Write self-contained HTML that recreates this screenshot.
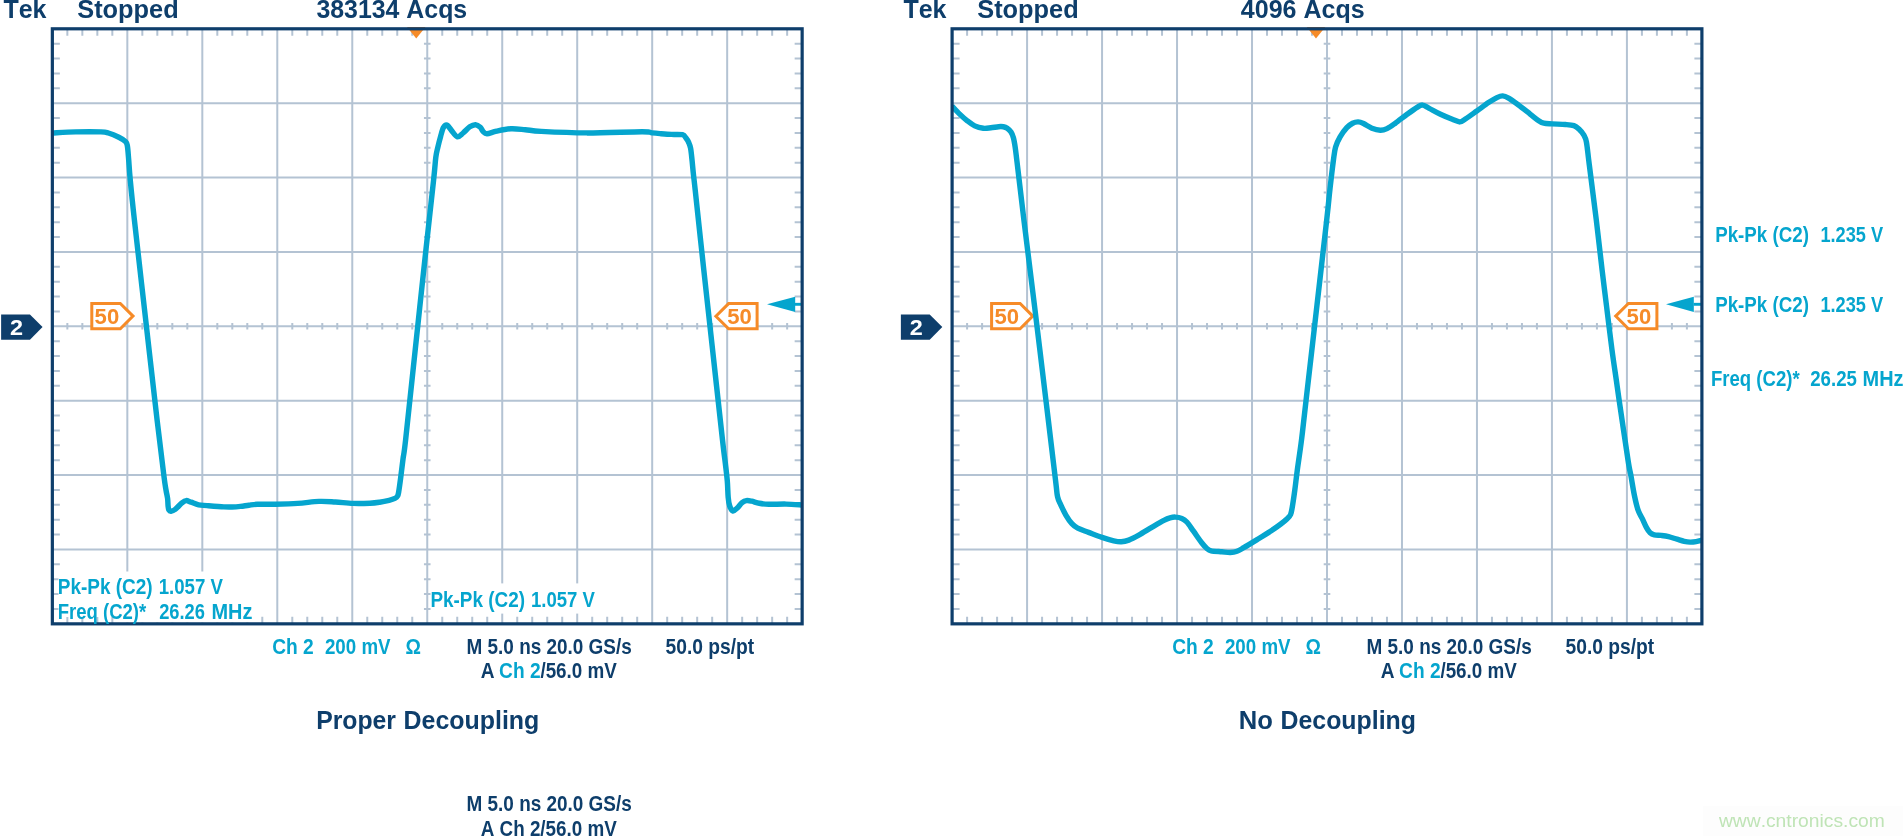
<!DOCTYPE html>
<html><head><meta charset="utf-8"><title>Scope</title>
<style>
html,body{margin:0;padding:0;background:#fff;}
body{width:1903px;height:836px;overflow:hidden;position:relative;font-family:"Liberation Sans",sans-serif;}
svg text{font-family:"Liberation Sans",sans-serif;font-kerning:none;}
</style></head><body>
<svg width="1903" height="836" viewBox="0 0 1903 836" style="position:absolute;left:0;top:0;will-change:transform">
<clipPath id="c52"><rect x="52.35" y="28.8" width="749.8" height="595.04"/></clipPath>
<path d="M127.33 28.8V623.84M202.31 28.8V623.84M277.29 28.8V623.84M352.27 28.8V623.84M427.25 28.8V623.84M502.23 28.8V623.84M577.21 28.8V623.84M652.19 28.8V623.84M727.17 28.8V623.84M52.35 103.18H802.15M52.35 177.56H802.15M52.35 251.94H802.15M52.35 326.32H802.15M52.35 400.7H802.15M52.35 475.08H802.15M52.35 549.46H802.15" stroke="#b4c3d3" stroke-width="2" fill="none"/>
<path d="M67.35 28.8v7M67.35 623.84v-7M67.35 323.12v6.4M82.34 28.8v7M82.34 623.84v-7M82.34 323.12v6.4M97.34 28.8v7M97.34 623.84v-7M97.34 323.12v6.4M112.33 28.8v7M112.33 623.84v-7M112.33 323.12v6.4M142.33 28.8v7M142.33 623.84v-7M142.33 323.12v6.4M157.32 28.8v7M157.32 623.84v-7M157.32 323.12v6.4M172.32 28.8v7M172.32 623.84v-7M172.32 323.12v6.4M187.31 28.8v7M187.31 623.84v-7M187.31 323.12v6.4M217.31 28.8v7M217.31 623.84v-7M217.31 323.12v6.4M232.3 28.8v7M232.3 623.84v-7M232.3 323.12v6.4M247.3 28.8v7M247.3 623.84v-7M247.3 323.12v6.4M262.29 28.8v7M262.29 623.84v-7M262.29 323.12v6.4M292.29 28.8v7M292.29 623.84v-7M292.29 323.12v6.4M307.28 28.8v7M307.28 623.84v-7M307.28 323.12v6.4M322.28 28.8v7M322.28 623.84v-7M322.28 323.12v6.4M337.27 28.8v7M337.27 623.84v-7M337.27 323.12v6.4M367.27 28.8v7M367.27 623.84v-7M367.27 323.12v6.4M382.26 28.8v7M382.26 623.84v-7M382.26 323.12v6.4M397.26 28.8v7M397.26 623.84v-7M397.26 323.12v6.4M412.25 28.8v7M412.25 623.84v-7M412.25 323.12v6.4M442.25 28.8v7M442.25 623.84v-7M442.25 323.12v6.4M457.24 28.8v7M457.24 623.84v-7M457.24 323.12v6.4M472.24 28.8v7M472.24 623.84v-7M472.24 323.12v6.4M487.23 28.8v7M487.23 623.84v-7M487.23 323.12v6.4M517.23 28.8v7M517.23 623.84v-7M517.23 323.12v6.4M532.22 28.8v7M532.22 623.84v-7M532.22 323.12v6.4M547.22 28.8v7M547.22 623.84v-7M547.22 323.12v6.4M562.21 28.8v7M562.21 623.84v-7M562.21 323.12v6.4M592.21 28.8v7M592.21 623.84v-7M592.21 323.12v6.4M607.2 28.8v7M607.2 623.84v-7M607.2 323.12v6.4M622.2 28.8v7M622.2 623.84v-7M622.2 323.12v6.4M637.19 28.8v7M637.19 623.84v-7M637.19 323.12v6.4M667.19 28.8v7M667.19 623.84v-7M667.19 323.12v6.4M682.18 28.8v7M682.18 623.84v-7M682.18 323.12v6.4M697.18 28.8v7M697.18 623.84v-7M697.18 323.12v6.4M712.17 28.8v7M712.17 623.84v-7M712.17 323.12v6.4M742.17 28.8v7M742.17 623.84v-7M742.17 323.12v6.4M757.16 28.8v7M757.16 623.84v-7M757.16 323.12v6.4M772.16 28.8v7M772.16 623.84v-7M772.16 323.12v6.4M787.15 28.8v7M787.15 623.84v-7M787.15 323.12v6.4M52.35 43.68h7.5M802.15 43.68h-7.5M423.95 43.68h6.6M52.35 58.55h7.5M802.15 58.55h-7.5M423.95 58.55h6.6M52.35 73.43h7.5M802.15 73.43h-7.5M423.95 73.43h6.6M52.35 88.3h7.5M802.15 88.3h-7.5M423.95 88.3h6.6M52.35 118.06h7.5M802.15 118.06h-7.5M423.95 118.06h6.6M52.35 132.93h7.5M802.15 132.93h-7.5M423.95 132.93h6.6M52.35 147.81h7.5M802.15 147.81h-7.5M423.95 147.81h6.6M52.35 162.68h7.5M802.15 162.68h-7.5M423.95 162.68h6.6M52.35 192.44h7.5M802.15 192.44h-7.5M423.95 192.44h6.6M52.35 207.31h7.5M802.15 207.31h-7.5M423.95 207.31h6.6M52.35 222.19h7.5M802.15 222.19h-7.5M423.95 222.19h6.6M52.35 237.06h7.5M802.15 237.06h-7.5M423.95 237.06h6.6M52.35 266.82h7.5M802.15 266.82h-7.5M423.95 266.82h6.6M52.35 281.69h7.5M802.15 281.69h-7.5M423.95 281.69h6.6M52.35 296.57h7.5M802.15 296.57h-7.5M423.95 296.57h6.6M52.35 311.44h7.5M802.15 311.44h-7.5M423.95 311.44h6.6M52.35 341.2h7.5M802.15 341.2h-7.5M423.95 341.2h6.6M52.35 356.07h7.5M802.15 356.07h-7.5M423.95 356.07h6.6M52.35 370.95h7.5M802.15 370.95h-7.5M423.95 370.95h6.6M52.35 385.82h7.5M802.15 385.82h-7.5M423.95 385.82h6.6M52.35 415.58h7.5M802.15 415.58h-7.5M423.95 415.58h6.6M52.35 430.45h7.5M802.15 430.45h-7.5M423.95 430.45h6.6M52.35 445.33h7.5M802.15 445.33h-7.5M423.95 445.33h6.6M52.35 460.2h7.5M802.15 460.2h-7.5M423.95 460.2h6.6M52.35 489.96h7.5M802.15 489.96h-7.5M423.95 489.96h6.6M52.35 504.83h7.5M802.15 504.83h-7.5M423.95 504.83h6.6M52.35 519.71h7.5M802.15 519.71h-7.5M423.95 519.71h6.6M52.35 534.58h7.5M802.15 534.58h-7.5M423.95 534.58h6.6M52.35 564.34h7.5M802.15 564.34h-7.5M423.95 564.34h6.6M52.35 579.21h7.5M802.15 579.21h-7.5M423.95 579.21h6.6M52.35 594.09h7.5M802.15 594.09h-7.5M423.95 594.09h6.6M52.35 608.96h7.5M802.15 608.96h-7.5M423.95 608.96h6.6" stroke="#b4c3d3" stroke-width="2" fill="none"/>
<clipPath id="c952"><rect x="952.1" y="28.8" width="749.8" height="595.04"/></clipPath>
<path d="M1027.08 28.8V623.84M1102.06 28.8V623.84M1177.04 28.8V623.84M1252.02 28.8V623.84M1327 28.8V623.84M1401.98 28.8V623.84M1476.96 28.8V623.84M1551.94 28.8V623.84M1626.92 28.8V623.84M952.1 103.18H1701.9M952.1 177.56H1701.9M952.1 251.94H1701.9M952.1 326.32H1701.9M952.1 400.7H1701.9M952.1 475.08H1701.9M952.1 549.46H1701.9" stroke="#b4c3d3" stroke-width="2" fill="none"/>
<path d="M967.1 28.8v7M967.1 623.84v-7M967.1 323.12v6.4M982.09 28.8v7M982.09 623.84v-7M982.09 323.12v6.4M997.09 28.8v7M997.09 623.84v-7M997.09 323.12v6.4M1012.08 28.8v7M1012.08 623.84v-7M1012.08 323.12v6.4M1042.08 28.8v7M1042.08 623.84v-7M1042.08 323.12v6.4M1057.07 28.8v7M1057.07 623.84v-7M1057.07 323.12v6.4M1072.07 28.8v7M1072.07 623.84v-7M1072.07 323.12v6.4M1087.06 28.8v7M1087.06 623.84v-7M1087.06 323.12v6.4M1117.06 28.8v7M1117.06 623.84v-7M1117.06 323.12v6.4M1132.05 28.8v7M1132.05 623.84v-7M1132.05 323.12v6.4M1147.05 28.8v7M1147.05 623.84v-7M1147.05 323.12v6.4M1162.04 28.8v7M1162.04 623.84v-7M1162.04 323.12v6.4M1192.04 28.8v7M1192.04 623.84v-7M1192.04 323.12v6.4M1207.03 28.8v7M1207.03 623.84v-7M1207.03 323.12v6.4M1222.03 28.8v7M1222.03 623.84v-7M1222.03 323.12v6.4M1237.02 28.8v7M1237.02 623.84v-7M1237.02 323.12v6.4M1267.02 28.8v7M1267.02 623.84v-7M1267.02 323.12v6.4M1282.01 28.8v7M1282.01 623.84v-7M1282.01 323.12v6.4M1297.01 28.8v7M1297.01 623.84v-7M1297.01 323.12v6.4M1312 28.8v7M1312 623.84v-7M1312 323.12v6.4M1342 28.8v7M1342 623.84v-7M1342 323.12v6.4M1356.99 28.8v7M1356.99 623.84v-7M1356.99 323.12v6.4M1371.99 28.8v7M1371.99 623.84v-7M1371.99 323.12v6.4M1386.98 28.8v7M1386.98 623.84v-7M1386.98 323.12v6.4M1416.98 28.8v7M1416.98 623.84v-7M1416.98 323.12v6.4M1431.97 28.8v7M1431.97 623.84v-7M1431.97 323.12v6.4M1446.97 28.8v7M1446.97 623.84v-7M1446.97 323.12v6.4M1461.96 28.8v7M1461.96 623.84v-7M1461.96 323.12v6.4M1491.96 28.8v7M1491.96 623.84v-7M1491.96 323.12v6.4M1506.95 28.8v7M1506.95 623.84v-7M1506.95 323.12v6.4M1521.95 28.8v7M1521.95 623.84v-7M1521.95 323.12v6.4M1536.94 28.8v7M1536.94 623.84v-7M1536.94 323.12v6.4M1566.94 28.8v7M1566.94 623.84v-7M1566.94 323.12v6.4M1581.93 28.8v7M1581.93 623.84v-7M1581.93 323.12v6.4M1596.93 28.8v7M1596.93 623.84v-7M1596.93 323.12v6.4M1611.92 28.8v7M1611.92 623.84v-7M1611.92 323.12v6.4M1641.92 28.8v7M1641.92 623.84v-7M1641.92 323.12v6.4M1656.91 28.8v7M1656.91 623.84v-7M1656.91 323.12v6.4M1671.91 28.8v7M1671.91 623.84v-7M1671.91 323.12v6.4M1686.9 28.8v7M1686.9 623.84v-7M1686.9 323.12v6.4M952.1 43.68h7.5M1701.9 43.68h-7.5M1323.7 43.68h6.6M952.1 58.55h7.5M1701.9 58.55h-7.5M1323.7 58.55h6.6M952.1 73.43h7.5M1701.9 73.43h-7.5M1323.7 73.43h6.6M952.1 88.3h7.5M1701.9 88.3h-7.5M1323.7 88.3h6.6M952.1 118.06h7.5M1701.9 118.06h-7.5M1323.7 118.06h6.6M952.1 132.93h7.5M1701.9 132.93h-7.5M1323.7 132.93h6.6M952.1 147.81h7.5M1701.9 147.81h-7.5M1323.7 147.81h6.6M952.1 162.68h7.5M1701.9 162.68h-7.5M1323.7 162.68h6.6M952.1 192.44h7.5M1701.9 192.44h-7.5M1323.7 192.44h6.6M952.1 207.31h7.5M1701.9 207.31h-7.5M1323.7 207.31h6.6M952.1 222.19h7.5M1701.9 222.19h-7.5M1323.7 222.19h6.6M952.1 237.06h7.5M1701.9 237.06h-7.5M1323.7 237.06h6.6M952.1 266.82h7.5M1701.9 266.82h-7.5M1323.7 266.82h6.6M952.1 281.69h7.5M1701.9 281.69h-7.5M1323.7 281.69h6.6M952.1 296.57h7.5M1701.9 296.57h-7.5M1323.7 296.57h6.6M952.1 311.44h7.5M1701.9 311.44h-7.5M1323.7 311.44h6.6M952.1 341.2h7.5M1701.9 341.2h-7.5M1323.7 341.2h6.6M952.1 356.07h7.5M1701.9 356.07h-7.5M1323.7 356.07h6.6M952.1 370.95h7.5M1701.9 370.95h-7.5M1323.7 370.95h6.6M952.1 385.82h7.5M1701.9 385.82h-7.5M1323.7 385.82h6.6M952.1 415.58h7.5M1701.9 415.58h-7.5M1323.7 415.58h6.6M952.1 430.45h7.5M1701.9 430.45h-7.5M1323.7 430.45h6.6M952.1 445.33h7.5M1701.9 445.33h-7.5M1323.7 445.33h6.6M952.1 460.2h7.5M1701.9 460.2h-7.5M1323.7 460.2h6.6M952.1 489.96h7.5M1701.9 489.96h-7.5M1323.7 489.96h6.6M952.1 504.83h7.5M1701.9 504.83h-7.5M1323.7 504.83h6.6M952.1 519.71h7.5M1701.9 519.71h-7.5M1323.7 519.71h6.6M952.1 534.58h7.5M1701.9 534.58h-7.5M1323.7 534.58h6.6M952.1 564.34h7.5M1701.9 564.34h-7.5M1323.7 564.34h6.6M952.1 579.21h7.5M1701.9 579.21h-7.5M1323.7 579.21h6.6M952.1 594.09h7.5M1701.9 594.09h-7.5M1323.7 594.09h6.6M952.1 608.96h7.5M1701.9 608.96h-7.5M1323.7 608.96h6.6" stroke="#b4c3d3" stroke-width="2" fill="none"/>
<path d="M58.5 571.5H257V622.4H120V617H58.5z" fill="#fff"/>
<rect x="431.2" y="583.4" width="168" height="30.2" fill="#fff"/>
<path d="M91.8 303.5h28.5l12.7 12.6l-12.7 12.6h-28.5z" fill="#fff" stroke="#f68b28" stroke-width="3" stroke-linejoin="miter"/>
<path d="M757.1 303.6h-28.5l-12.7 12.6l12.7 12.6h28.5z" fill="#fff" stroke="#f68b28" stroke-width="3" stroke-linejoin="miter"/>
<path d="M991.6 303.5h28.5l12.7 12.6l-12.7 12.6h-28.5z" fill="#fff" stroke="#f68b28" stroke-width="3" stroke-linejoin="miter"/>
<path d="M1656.9 303.5h-28.5l-12.7 12.6l12.7 12.6h28.5z" fill="#fff" stroke="#f68b28" stroke-width="3" stroke-linejoin="miter"/>
<path d="M795.2 296.7L767 304.3L795.2 311.9z" fill="#05a5ce"/><rect x="795" y="302.85" width="7" height="2.9" fill="#05a5ce"/>
<path d="M1693.8 296.7L1666 304.3L1693.8 311.9z" fill="#05a5ce"/><rect x="1693.6" y="302.85" width="8.4" height="2.9" fill="#05a5ce"/>
<path d="M52 133 C55.95 132.82 67.55 132.08 75.7 131.9 C83.85 131.72 95.45 131.72 100.9 131.9 C106.35 132.08 105.42 132.12 108.4 133 C111.38 133.88 115.93 135.77 118.8 137.2 C121.67 138.63 124.17 140.13 125.6 141.6 C127.03 143.07 126.88 142.93 127.4 146 C127.92 149.07 128.25 154.62 128.7 160 C129.15 165.38 129.15 168.3 130.1 178.3 C131.05 188.3 131.8 196.38 134.4 220 C137 243.62 141.92 286.67 145.7 320 C149.48 353.33 154.08 394.17 157.1 420 C160.12 445.83 162.32 463.33 163.8 475 C165.28 486.67 165.37 486.08 166 490 C166.63 493.92 167.25 495.83 167.6 498.5 C167.95 501.17 167.88 504.08 168.1 506 C168.32 507.92 168.42 509.13 168.9 510 C169.38 510.87 169.95 511.3 171 511.2 C172.05 511.1 173.38 510.78 175.2 509.4 C177.02 508.02 180.08 504.37 181.9 502.9 C183.72 501.43 184.57 500.72 186.1 500.6 C187.63 500.48 189.02 501.5 191.1 502.2 C193.18 502.9 195.95 504.23 198.6 504.8 C201.25 505.37 202.8 505.25 207 505.6 C211.2 505.95 219.62 506.67 223.8 506.9 C227.98 507.13 229.32 507.08 232.1 507 C234.88 506.92 237.7 506.7 240.5 506.4 C243.3 506.1 246.1 505.55 248.9 505.2 C251.7 504.85 253.12 504.47 257.3 504.3 C261.48 504.13 267.28 504.35 274 504.2 C280.72 504.05 290.1 503.87 297.6 503.4 C305.1 502.93 312.7 501.63 319 501.4 C325.3 501.17 329.72 501.67 335.4 502 C341.08 502.33 347.33 503.2 353.1 503.4 C358.87 503.6 365.58 503.4 370 503.2 C374.42 503 376.42 502.68 379.6 502.2 C382.78 501.72 386.55 500.93 389.1 500.3 C391.65 499.67 393.48 499.12 394.9 498.4 C396.32 497.68 396.97 497.12 397.6 496 C398.23 494.88 398.2 494.65 398.7 491.7 C399.2 488.75 399.88 483.73 400.6 478.3 C401.32 472.87 402.17 465.48 403 459.1 C403.83 452.72 403.57 458.18 405.6 440 C407.63 421.82 411.82 381.67 415.2 350 C418.58 318.33 422.83 278.33 425.9 250 C428.97 221.67 431.95 195.43 433.6 180 C435.25 164.57 435.12 162.77 435.8 157.4 C436.48 152.03 436.9 151.3 437.7 147.8 C438.5 144.3 439.65 139.77 440.6 136.4 C441.55 133.03 442.33 129.48 443.4 127.6 C444.47 125.72 445.63 124.6 447 125.1 C448.37 125.6 449.88 128.65 451.6 130.6 C453.32 132.55 455.38 136.4 457.3 136.8 C459.22 137.2 461.02 134.67 463.1 133 C465.18 131.33 467.73 128.18 469.8 126.8 C471.87 125.42 473.75 124.62 475.5 124.7 C477.25 124.78 479.02 126.15 480.3 127.3 C481.58 128.45 482.08 130.53 483.2 131.6 C484.32 132.67 484.77 133.78 487 133.7 C489.23 133.62 492.62 131.92 496.6 131.1 C500.58 130.28 506.12 129.03 510.9 128.8 C515.68 128.57 520.25 129.27 525.3 129.7 C530.35 130.13 530.98 130.87 541.2 131.4 C551.42 131.93 569.78 132.85 586.6 132.9 C603.42 132.95 631.17 131.7 642.1 131.7 C653.03 131.7 649.22 132.58 652.2 132.9 C655.18 133.22 656.78 133.35 660 133.6 C663.22 133.85 667.75 134.22 671.5 134.4 C675.25 134.58 680.12 134.13 682.5 134.7 C684.88 135.27 684.77 136.5 685.8 137.8 C686.83 139.1 687.9 140.75 688.7 142.5 C689.5 144.25 690.03 145.27 690.6 148.3 C691.17 151.33 691.62 156.23 692.1 160.7 C692.58 165.17 692.98 170.22 693.5 175.1 C694.02 179.98 693.48 174.18 695.2 190 C696.92 205.82 700.9 243.33 703.8 270 C706.7 296.67 709.48 321.67 712.6 350 C715.72 378.33 720.37 421.02 722.5 440 C724.63 458.98 724.6 457.05 725.4 463.9 C726.2 470.75 726.83 475.52 727.3 481.1 C727.77 486.68 727.8 493.25 728.2 497.4 C728.6 501.55 728.9 503.73 729.7 506 C730.5 508.27 731.73 510.68 733 511 C734.27 511.32 735.78 509.3 737.3 507.9 C738.82 506.5 740.58 503.82 742.1 502.6 C743.62 501.38 744.8 500.83 746.4 500.6 C748 500.37 749.55 500.75 751.7 501.2 C753.85 501.65 756.43 502.78 759.3 503.3 C762.17 503.82 764.43 504.17 768.9 504.3 C773.37 504.43 780.5 503.98 786.1 504.1 C791.7 504.22 799.77 504.85 802.5 505" fill="none" stroke="#05a5ce" stroke-width="5.45" stroke-linejoin="round" stroke-linecap="butt" clip-path="url(#c52)"/>
<path d="M952 106.1 C953.23 107.4 956.9 111.48 959.4 113.9 C961.9 116.32 964.45 118.6 967 120.6 C969.55 122.6 971.98 124.62 974.7 125.9 C977.42 127.18 980.6 127.98 983.3 128.3 C986 128.62 988.35 128.07 990.9 127.8 C993.45 127.53 996.52 126.87 998.6 126.7 C1000.68 126.53 1001.97 126.53 1003.4 126.8 C1004.83 127.07 1005.93 127.42 1007.2 128.3 C1008.47 129.18 1009.97 130.52 1011 132.1 C1012.03 133.68 1012.7 135.25 1013.4 137.8 C1014.1 140.35 1014.6 143.4 1015.2 147.4 C1015.8 151.4 1015.55 149.7 1017 161.8 C1018.45 173.9 1021 196.13 1023.9 220 C1026.8 243.87 1030.73 275 1034.4 305 C1038.07 335 1042.38 370.83 1045.9 400 C1049.42 429.17 1053.55 463.85 1055.5 480 C1057.45 496.15 1056.68 492.68 1057.6 496.9 C1058.52 501.12 1059.6 502.23 1061 505.3 C1062.4 508.37 1064.18 512.23 1066 515.3 C1067.82 518.37 1069.95 521.55 1071.9 523.7 C1073.85 525.85 1074.92 526.75 1077.7 528.2 C1080.48 529.65 1084.55 530.87 1088.6 532.4 C1092.65 533.93 1097.82 536 1102 537.4 C1106.18 538.8 1110.5 540.07 1113.7 540.8 C1116.9 541.53 1118.68 541.92 1121.2 541.8 C1123.72 541.68 1125.87 541.22 1128.8 540.1 C1131.73 538.98 1134.9 537.27 1138.8 535.1 C1142.7 532.93 1148.02 529.55 1152.2 527.1 C1156.38 524.65 1160.93 521.93 1163.9 520.4 C1166.87 518.87 1168.1 518.45 1170 517.9 C1171.9 517.35 1173.33 517.02 1175.3 517.1 C1177.27 517.18 1179.88 517.58 1181.8 518.4 C1183.72 519.22 1184.85 519.87 1186.8 522 C1188.75 524.13 1190.98 527.7 1193.5 531.2 C1196.02 534.7 1199.67 540.12 1201.9 543 C1204.13 545.88 1205.37 547.2 1206.9 548.5 C1208.43 549.8 1208.6 550.25 1211.1 550.8 C1213.6 551.35 1218.7 551.52 1221.9 551.8 C1225.1 552.08 1227.78 552.58 1230.3 552.5 C1232.82 552.42 1234.77 552.1 1237 551.3 C1239.23 550.5 1240.35 549.65 1243.7 547.7 C1247.05 545.75 1252.63 542.35 1257.1 539.6 C1261.57 536.85 1266.6 533.77 1270.5 531.2 C1274.4 528.63 1277.72 526.28 1280.5 524.2 C1283.28 522.12 1285.52 520.32 1287.2 518.7 C1288.88 517.08 1289.75 516.45 1290.6 514.5 C1291.45 512.55 1291.6 511.05 1292.3 507 C1293 502.95 1293.97 496.35 1294.8 490.2 C1295.63 484.05 1296.18 478.47 1297.3 470.1 C1298.42 461.73 1300.03 451.68 1301.5 440 C1302.97 428.32 1303.52 422.5 1306.1 400 C1308.68 377.5 1313.57 335 1317 305 C1320.43 275 1324.53 239.37 1326.7 220 C1328.87 200.63 1328.88 198.73 1330 188.8 C1331.12 178.87 1332.47 167.37 1333.4 160.4 C1334.33 153.43 1334.48 150.92 1335.6 147 C1336.72 143.08 1338.23 140.12 1340.1 136.9 C1341.97 133.68 1344.72 129.98 1346.8 127.7 C1348.88 125.42 1350.7 124.17 1352.6 123.2 C1354.5 122.23 1356.38 121.85 1358.2 121.9 C1360.02 121.95 1361.22 122.45 1363.5 123.5 C1365.78 124.55 1369.1 127.08 1371.9 128.2 C1374.7 129.32 1377.78 130.13 1380.3 130.2 C1382.82 130.27 1384.5 129.77 1387 128.6 C1389.5 127.43 1391.95 125.58 1395.3 123.2 C1398.65 120.82 1403.47 116.95 1407.1 114.3 C1410.73 111.65 1414.53 108.83 1417.1 107.3 C1419.67 105.77 1420.55 104.97 1422.5 105.1 C1424.45 105.23 1425.8 106.57 1428.8 108.1 C1431.8 109.63 1436.58 112.43 1440.5 114.3 C1444.42 116.17 1449.05 118.03 1452.3 119.3 C1455.55 120.57 1457.82 121.95 1460 121.9 C1462.18 121.85 1462.6 120.82 1465.4 119 C1468.2 117.18 1472.95 113.73 1476.8 111 C1480.65 108.27 1485.15 104.83 1488.5 102.6 C1491.85 100.37 1494.53 98.72 1496.9 97.6 C1499.27 96.48 1500.75 95.82 1502.7 95.9 C1504.65 95.98 1505.95 96.57 1508.6 98.1 C1511.25 99.63 1514.97 102.4 1518.6 105.1 C1522.23 107.8 1527.05 111.7 1530.4 114.3 C1533.75 116.9 1536.47 119.22 1538.7 120.7 C1540.93 122.18 1541.57 122.67 1543.8 123.2 C1546.03 123.73 1548.48 123.68 1552.1 123.9 C1555.72 124.12 1561.87 124.2 1565.5 124.5 C1569.13 124.8 1571.67 124.93 1573.9 125.7 C1576.13 126.47 1577.23 127.52 1578.9 129.1 C1580.57 130.68 1582.65 133.07 1583.9 135.2 C1585.15 137.33 1585.6 137.77 1586.4 141.9 C1587.2 146.03 1587.85 153.3 1588.7 160 C1589.55 166.7 1590.23 172.1 1591.5 182.1 C1592.77 192.1 1594.53 205.35 1596.3 220 C1598.07 234.65 1600.42 255.83 1602.1 270 C1603.78 284.17 1604.75 291.67 1606.4 305 C1608.05 318.33 1610.35 337.5 1612 350 C1613.65 362.5 1615.1 371.57 1616.3 380 C1617.5 388.43 1617.25 387.27 1619.2 400.6 C1621.15 413.93 1626.05 447.5 1628 460 C1629.95 472.5 1629.82 469.62 1630.9 475.6 C1631.98 481.58 1633.3 490.13 1634.5 495.9 C1635.7 501.67 1636.8 506.42 1638.1 510.2 C1639.4 513.98 1640.9 515.7 1642.3 518.6 C1643.7 521.5 1645.2 525.25 1646.5 527.6 C1647.8 529.95 1648.8 531.5 1650.1 532.7 C1651.4 533.9 1652.42 534.35 1654.3 534.8 C1656.18 535.25 1659.02 535.1 1661.4 535.4 C1663.78 535.7 1666 535.97 1668.6 536.6 C1671.2 537.23 1674.4 538.42 1677 539.2 C1679.6 539.98 1682.02 540.82 1684.2 541.3 C1686.38 541.78 1688.12 542.05 1690.1 542.1 C1692.08 542.15 1694.03 541.95 1696.1 541.6 C1698.17 541.25 1701.43 540.27 1702.5 540" fill="none" stroke="#05a5ce" stroke-width="5.45" stroke-linejoin="round" stroke-linecap="butt" clip-path="url(#c952)"/>
<path d="M406.95 27h18.6l-9.3 11.6z" fill="#f68b28"/>
<rect x="52.35" y="28.8" width="749.8" height="595.04" fill="none" stroke="#0e3e6b" stroke-width="3.2"/>
<path d="M1.15 314.4h28.8l12.6 12.7l-12.6 12.7h-28.8z" fill="#0e3e6b"/>
<path d="M1306.7 27h18.6l-9.3 11.6z" fill="#f68b28"/>
<rect x="952.1" y="28.8" width="749.8" height="595.04" fill="none" stroke="#0e3e6b" stroke-width="3.2"/>
<path d="M900.9 314.4h28.8l12.6 12.7l-12.6 12.7h-28.8z" fill="#0e3e6b"/>
<text x="3.42" y="17.8" font-size="24.9" fill="#0e3e6b" font-weight="bold" textLength="43.06" lengthAdjust="spacingAndGlyphs">Tek</text>
<text x="77.27" y="17.8" font-size="24.9" fill="#0e3e6b" font-weight="bold" textLength="101.4" lengthAdjust="spacingAndGlyphs">Stopped</text>
<text x="903.42" y="17.8" font-size="24.9" fill="#0e3e6b" font-weight="bold" textLength="43.06" lengthAdjust="spacingAndGlyphs">Tek</text>
<text x="977.27" y="17.8" font-size="24.9" fill="#0e3e6b" font-weight="bold" textLength="101.4" lengthAdjust="spacingAndGlyphs">Stopped</text>
<text x="316.43" y="17.8" font-size="24.9" fill="#0e3e6b" font-weight="bold" textLength="150.79" lengthAdjust="spacingAndGlyphs">383134 Acqs</text>
<text x="1240.82" y="17.8" font-size="24.9" fill="#0e3e6b" font-weight="bold" textLength="123.91" lengthAdjust="spacingAndGlyphs">4096 Acqs</text>
<text x="57.73" y="593.7" font-size="21.2" fill="#05a5ce" font-weight="bold" textLength="94.91" lengthAdjust="spacingAndGlyphs">Pk-Pk (C2)</text>
<text x="158.63" y="593.7" font-size="21.2" fill="#05a5ce" font-weight="bold" textLength="64.3" lengthAdjust="spacingAndGlyphs">1.057 V</text>
<text x="57.76" y="618.6" font-size="21.2" fill="#05a5ce" font-weight="bold" textLength="88.46" lengthAdjust="spacingAndGlyphs">Freq (C2)*</text>
<text x="159.17" y="618.6" font-size="21.2" fill="#05a5ce" font-weight="bold" textLength="45.8" lengthAdjust="spacingAndGlyphs">26.26</text>
<text x="211.47" y="618.6" font-size="21.2" fill="#05a5ce" font-weight="bold" textLength="40.95" lengthAdjust="spacingAndGlyphs">MHz</text>
<text x="430.43" y="606.9" font-size="21.2" fill="#05a5ce" font-weight="bold" textLength="94.61" lengthAdjust="spacingAndGlyphs">Pk-Pk (C2)</text>
<text x="530.93" y="606.9" font-size="21.2" fill="#05a5ce" font-weight="bold" textLength="63.89" lengthAdjust="spacingAndGlyphs">1.057 V</text>
<text x="272.21" y="653.7" font-size="21.2" fill="#05a5ce" font-weight="bold" textLength="41.55" lengthAdjust="spacingAndGlyphs">Ch 2</text>
<text x="324.95" y="653.7" font-size="21.2" fill="#05a5ce" font-weight="bold" textLength="65.68" lengthAdjust="spacingAndGlyphs">200 mV</text>
<text x="405.52" y="653.7" font-size="21.2" fill="#05a5ce" font-weight="bold" textLength="15.46" lengthAdjust="spacingAndGlyphs">&#937;</text>
<text x="466.53" y="653.7" font-size="21.2" fill="#0e3e6b" font-weight="bold" textLength="165.24" lengthAdjust="spacingAndGlyphs">M 5.0 ns 20.0 GS/s</text>
<text x="665.51" y="653.7" font-size="21.2" fill="#0e3e6b" font-weight="bold" textLength="88.73" lengthAdjust="spacingAndGlyphs">50.0 ps/pt</text>
<text x="480.72" y="678.4" font-size="21.2" fill="#0e3e6b" font-weight="bold" textLength="13.78" lengthAdjust="spacingAndGlyphs">A</text>
<text x="499.12" y="678.4" font-size="21.2" fill="#05a5ce" font-weight="bold" textLength="41.45" lengthAdjust="spacingAndGlyphs">Ch 2</text>
<text x="540.42" y="678.4" font-size="21.2" fill="#0e3e6b" font-weight="bold" textLength="76.41" lengthAdjust="spacingAndGlyphs">/56.0 mV</text>
<text x="1172.21" y="653.7" font-size="21.2" fill="#05a5ce" font-weight="bold" textLength="41.55" lengthAdjust="spacingAndGlyphs">Ch 2</text>
<text x="1224.95" y="653.7" font-size="21.2" fill="#05a5ce" font-weight="bold" textLength="65.68" lengthAdjust="spacingAndGlyphs">200 mV</text>
<text x="1305.52" y="653.7" font-size="21.2" fill="#05a5ce" font-weight="bold" textLength="15.46" lengthAdjust="spacingAndGlyphs">&#937;</text>
<text x="1366.53" y="653.7" font-size="21.2" fill="#0e3e6b" font-weight="bold" textLength="165.24" lengthAdjust="spacingAndGlyphs">M 5.0 ns 20.0 GS/s</text>
<text x="1565.51" y="653.7" font-size="21.2" fill="#0e3e6b" font-weight="bold" textLength="88.73" lengthAdjust="spacingAndGlyphs">50.0 ps/pt</text>
<text x="1380.72" y="678.4" font-size="21.2" fill="#0e3e6b" font-weight="bold" textLength="13.78" lengthAdjust="spacingAndGlyphs">A</text>
<text x="1399.12" y="678.4" font-size="21.2" fill="#05a5ce" font-weight="bold" textLength="41.45" lengthAdjust="spacingAndGlyphs">Ch 2</text>
<text x="1440.42" y="678.4" font-size="21.2" fill="#0e3e6b" font-weight="bold" textLength="76.41" lengthAdjust="spacingAndGlyphs">/56.0 mV</text>
<text x="316.14" y="728.7" font-size="25.2" fill="#0e3e6b" font-weight="bold" textLength="79.83" lengthAdjust="spacingAndGlyphs">Proper</text>
<text x="403.53" y="728.7" font-size="25.2" fill="#0e3e6b" font-weight="bold" textLength="135.84" lengthAdjust="spacingAndGlyphs">Decoupling</text>
<text x="1238.79" y="728.7" font-size="25.2" fill="#0e3e6b" font-weight="bold" textLength="34.11" lengthAdjust="spacingAndGlyphs">No</text>
<text x="1280.54" y="728.7" font-size="25.2" fill="#0e3e6b" font-weight="bold" textLength="135.43" lengthAdjust="spacingAndGlyphs">Decoupling</text>
<text x="466.53" y="811.1" font-size="21.2" fill="#0e3e6b" font-weight="bold" textLength="165.24" lengthAdjust="spacingAndGlyphs">M 5.0 ns 20.0 GS/s</text>
<text x="480.73" y="835.8" font-size="21.2" fill="#0e3e6b" font-weight="bold" textLength="136.1" lengthAdjust="spacingAndGlyphs">A Ch 2/56.0 mV</text>
<text x="1715.15" y="241.75" font-size="21.2" fill="#05a5ce" font-weight="bold" textLength="93.79" lengthAdjust="spacingAndGlyphs">Pk-Pk (C2)</text>
<text x="1820.45" y="241.75" font-size="21.2" fill="#05a5ce" font-weight="bold" textLength="62.67" lengthAdjust="spacingAndGlyphs">1.235 V</text>
<text x="1715.15" y="311.75" font-size="21.2" fill="#05a5ce" font-weight="bold" textLength="93.79" lengthAdjust="spacingAndGlyphs">Pk-Pk (C2)</text>
<text x="1820.45" y="311.75" font-size="21.2" fill="#05a5ce" font-weight="bold" textLength="62.67" lengthAdjust="spacingAndGlyphs">1.235 V</text>
<text x="1710.96" y="385.8" font-size="21.2" fill="#05a5ce" font-weight="bold" textLength="88.66" lengthAdjust="spacingAndGlyphs">Freq (C2)*</text>
<text x="1810.25" y="385.8" font-size="21.2" fill="#05a5ce" font-weight="bold" textLength="46.67" lengthAdjust="spacingAndGlyphs">26.25</text>
<text x="1862.57" y="385.8" font-size="21.2" fill="#05a5ce" font-weight="bold" textLength="40.95" lengthAdjust="spacingAndGlyphs">MHz</text>
<text x="94.62" y="324.1" font-size="21.2" fill="#f68b28" font-weight="bold" textLength="24.59" lengthAdjust="spacingAndGlyphs">50</text>
<text x="727.22" y="324.1" font-size="21.2" fill="#f68b28" font-weight="bold" textLength="24.59" lengthAdjust="spacingAndGlyphs">50</text>
<text x="994.42" y="324.1" font-size="21.2" fill="#f68b28" font-weight="bold" textLength="24.59" lengthAdjust="spacingAndGlyphs">50</text>
<text x="1626.62" y="324.1" font-size="21.2" fill="#f68b28" font-weight="bold" textLength="24.59" lengthAdjust="spacingAndGlyphs">50</text>
<text x="9.99" y="335" font-size="21.4" fill="#fff" font-weight="bold" textLength="13.05" lengthAdjust="spacingAndGlyphs">2</text>
<text x="909.74" y="335" font-size="21.4" fill="#fff" font-weight="bold" textLength="13.05" lengthAdjust="spacingAndGlyphs">2</text>
<rect x="1703" y="806" width="200" height="30" fill="#fdfdfd"/>
<text x="1718.93" y="826.8" font-size="18.4" fill="#bfe4b6" font-weight="normal" textLength="165.84" lengthAdjust="spacingAndGlyphs">www.cntronics.com</text>
</svg>
</body></html>
